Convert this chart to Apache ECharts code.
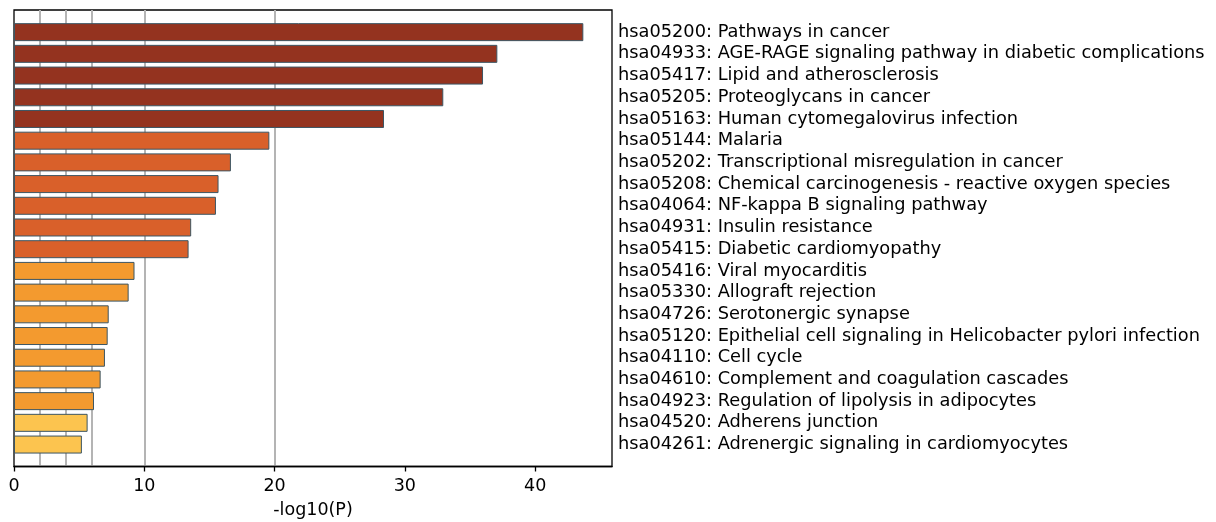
<!DOCTYPE html>
<html>
<head>
<meta charset="UTF-8">
<script src="https://cdn.jsdelivr.net/npm/echarts@6/dist/echarts.min.js"></script>
<style>
    html, body { margin: 0; padding: 0; background: #fff; }
</style>
</head>
<body>
<div id="chart" style="width:1216px;height:522px;"></div>
<script>
    // pathway terms, top to bottom
    var terms = [
        'hsa05200: Pathways in cancer',
        'hsa04933: AGE-RAGE signaling pathway in diabetic complications',
        'hsa05417: Lipid and atherosclerosis',
        'hsa05205: Proteoglycans in cancer',
        'hsa05163: Human cytomegalovirus infection',
        'hsa05144: Malaria',
        'hsa05202: Transcriptional misregulation in cancer',
        'hsa05208: Chemical carcinogenesis - reactive oxygen species',
        'hsa04064: NF-kappa B signaling pathway',
        'hsa04931: Insulin resistance',
        'hsa05415: Diabetic cardiomyopathy',
        'hsa05416: Viral myocarditis',
        'hsa05330: Allograft rejection',
        'hsa04726: Serotonergic synapse',
        'hsa05120: Epithelial cell signaling in Helicobacter pylori infection',
        'hsa04110: Cell cycle',
        'hsa04610: Complement and coagulation cascades',
        'hsa04923: Regulation of lipolysis in adipocytes',
        'hsa04520: Adherens junction',
        'hsa04261: Adrenergic signaling in cardiomyocytes'
    ];
    // -log10(P)
    var logP = [43.7, 37.1, 36.0, 32.95, 28.4, 19.6, 16.65, 15.7, 15.5, 13.6,
                13.4, 9.25, 8.8, 7.27, 7.19, 6.98, 6.65, 6.14, 5.65, 5.21];
    // colour group of each bar
    var group = [0, 0, 0, 0, 0, 1, 1, 1, 1, 1, 1, 2, 2, 2, 2, 2, 2, 2, 3, 3];
    var xTicks = [0, 10, 20, 30, 40];
    var refLines = [2, 4, 6, 10, 20];

    var palette = ['#94331f', '#d9602a', '#f39a2f', '#fcc44f'];
    var font = 'DejaVu Sans';
    var xMax = 45.9;

    var chart = echarts.init(document.getElementById('chart'));

    var barData = [];
    for (var i = 0; i < logP.length; i++) {
        barData.push({
            value: logP[i],
            itemStyle: {color: palette[group[i]]}
        });
    }
    var lineData = [];
    for (var j = 0; j < refLines.length; j++) {
        lineData.push({xAxis: refLines[j]});
    }

    var option = {
        animation: false,
        // grid 0: frame, x axis and reference lines; grid 1: bars (inset like matplotlib margins)
        grid: [
            {
                left: 14, right: 604, top: 10, bottom: 55.5,
                outerBoundsMode: 'none', containLabel: false,
                show: true, borderColor: '#000', borderWidth: 1.3, backgroundColor: 'transparent'
            },
            {left: 14, right: 604, top: 21.3, bottom: 66.6, outerBoundsMode: 'none', containLabel: false}
        ],
        xAxis: [
            {
                gridIndex: 0,
                type: 'value',
                min: 0,
                max: xMax,
                interval: 10,
                name: '-log10(P)',
                nameLocation: 'middle',
                nameGap: 35,
                nameTextStyle: {color: '#000', fontFamily: font, fontSize: 17.5},
                axisLine: {show: true, lineStyle: {color: '#000', width: 1.3}},
                axisTick: {show: true, length: 5, customValues: xTicks, lineStyle: {color: '#000', width: 1.3}},
                axisLabel: {color: '#000', fontFamily: font, fontSize: 17.5, margin: 11, customValues: xTicks},
                splitLine: {show: false}
            },
            {
                gridIndex: 1,
                type: 'value',
                min: 0,
                max: xMax,
                show: false
            }
        ],
        yAxis: [
            {
                gridIndex: 0,
                type: 'value',
                min: 0,
                max: 1,
                show: false
            },
            {
                gridIndex: 1,
                type: 'category',
                data: terms,
                position: 'right',
                inverse: true,
                axisLine: {show: false},
                axisTick: {show: false},
                splitLine: {show: false},
                axisLabel: {color: '#000', fontFamily: font, fontSize: 17.8, margin: 6, interval: 0}
            }
        ],
        series: [
            {
                type: 'line',
                xAxisIndex: 0,
                yAxisIndex: 0,
                data: [],
                z: 0,
                markLine: {
                    silent: true,
                    symbol: 'none',
                    z: 0,
                    label: {show: false},
                    lineStyle: {color: '#b4b4b4', width: 2, type: 'solid'},
                    data: lineData
                }
            },
            {
                type: 'bar',
                xAxisIndex: 1,
                yAxisIndex: 1,
                z: 10,
                barWidth: 18,
                itemStyle: {borderColor: '#3d5663', borderWidth: 1},
                data: barData
            }
        ]
    };
    chart.setOption(option);
</script>
</body>
</html>
